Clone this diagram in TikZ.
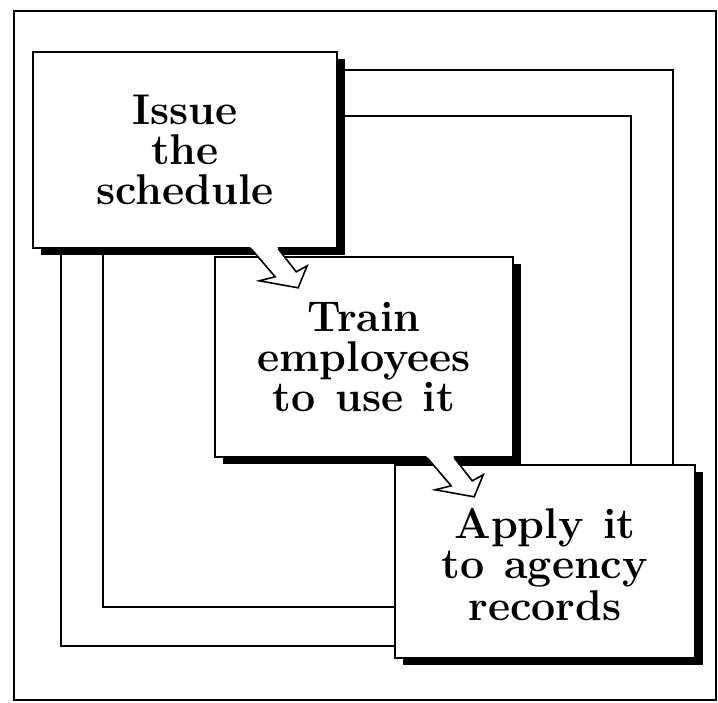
\documentclass[tikz,border=0pt]{standalone}
\usetikzlibrary{shadows,calc}
\begin{document}
\begin{tikzpicture}[x=1pt,y=-1pt,
  frameline/.style={line width=2.8pt},
  loopline/.style={line width=1.8pt},
  box/.style={draw, fill=white, line width=1.6pt, align=center,
    font=\fontsize{43}{40}\selectfont\bfseries, inner sep=0pt,
    drop shadow={fill=black, opacity=1, shadow xshift=8pt, shadow yshift=-7pt}},
  flowarrow/.style={line width=1.6pt, line join=miter}
]
\useasboundingbox (0,0) rectangle (718,702);
% outer frame
\draw[frameline] (14,11) rectangle (716,700);
% loop rectangles
\draw[loopline] (61,70) rectangle (673,646);
\draw[loopline] (103,116) rectangle (631,607);
% boxes
\node[box, minimum width=304pt, minimum height=196pt] (b1) at (185,150) {Issue\\the\\schedule};
\node[box, minimum width=298pt, minimum height=200pt] (b2) at (364,357) {Train\\employees\\to\hspace{.45em}use\hspace{.45em}it};
\node[box, minimum width=300pt, minimum height=193pt] (b3) at (545,561.5) {\raisebox{-9pt}[\height][\depth]{\begin{tabular}{@{}c@{}}Apply\hspace{.45em}it\\to\hspace{.45em}agency\\records\end{tabular}}};
% hollow arrows from box to box
\coordinate (s1) at ($(b1.south west)+(219,0)$);
\coordinate (s2) at ($(b2.south west)+(213,0)$);
\foreach \s in {s1,s2}{
  \fill[white] ($(\s)+(-2,-3)$) -- ($(\s)+(24,28)$) -- ($(\s)+(8,32)$) -- ($(\s)+(47,39)$)
     -- ($(\s)+(56,17)$) -- ($(\s)+(45,23)$) -- ($(\s)+(25,-3)$) -- cycle;
  \draw[flowarrow] ($(\s)+(0,0)$) -- ($(\s)+(24,28)$) -- ($(\s)+(8,32)$) -- ($(\s)+(47,39)$)
     -- ($(\s)+(56,17)$) -- ($(\s)+(45,23)$) -- ($(\s)+(27,0)$);
}
\end{tikzpicture}
\end{document}
